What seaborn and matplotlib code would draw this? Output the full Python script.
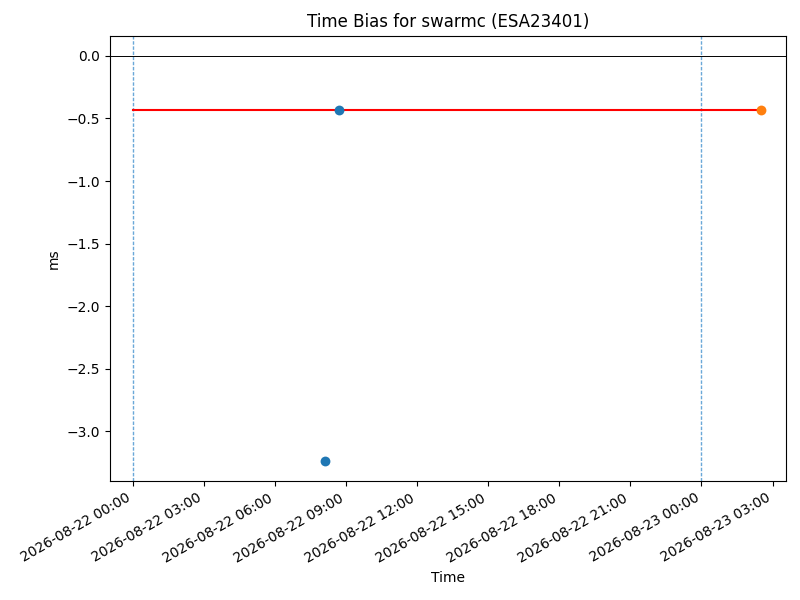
import matplotlib
matplotlib.use("Agg")
import matplotlib.pyplot as plt
import matplotlib.dates as mdates
import seaborn as sns
import pandas as pd

# Data
blue_times = ["2026-08-22 08:06", "2026-08-22 08:41"]
blue_values = [-3.238, -0.433]
orange_times = ["2026-08-23 02:31"]
orange_values = [-0.433]
line_times = ["2026-08-22 00:00", "2026-08-23 02:31"]
line_values = [-0.433, -0.433]
vline_times = ["2026-08-22 00:00", "2026-08-23 00:00"]
title = "Time Bias for swarmc (ESA23401)"

blue = pd.DataFrame({"t": pd.to_datetime(blue_times), "v": blue_values})
orange = pd.DataFrame({"t": pd.to_datetime(orange_times), "v": orange_values})
line = pd.DataFrame({"t": pd.to_datetime(line_times), "v": line_values})

fig, ax = plt.subplots(figsize=(8, 6), dpi=100)

ax.axhline(0, color="black", linewidth=0.7)

sns.lineplot(data=line, x="t", y="v", color="red", linewidth=1.5, ax=ax)
sns.scatterplot(data=blue, x="t", y="v", color="#1f77b4", s=50, linewidth=0, ax=ax, zorder=3)
sns.scatterplot(data=orange, x="t", y="v", color="#ff7f0e", s=50, linewidth=0, ax=ax, zorder=3)

for vt in vline_times:
    ax.axvline(mdates.date2num(pd.Timestamp(vt)), color="#6aa8d8", linestyle=(0, (2.5, 1.2)),
               linewidth=1.0, zorder=1.5)

ax.set_xlim(pd.Timestamp("2026-08-22 00:00") - pd.Timedelta(minutes=58),
            pd.Timestamp("2026-08-23 03:33"))
ax.xaxis.set_major_locator(mdates.HourLocator(byhour=range(0, 24, 3)))
ax.xaxis.set_major_formatter(mdates.DateFormatter("%Y-%m-%d %H:%M"))
ax.set_title(title)
ax.set_xlabel("Time")
ax.set_ylabel("ms")
fig.autofmt_xdate()
fig.subplots_adjust(left=0.1375, right=0.982, top=0.9405, bottom=0.198)
fig.savefig("out.png")
